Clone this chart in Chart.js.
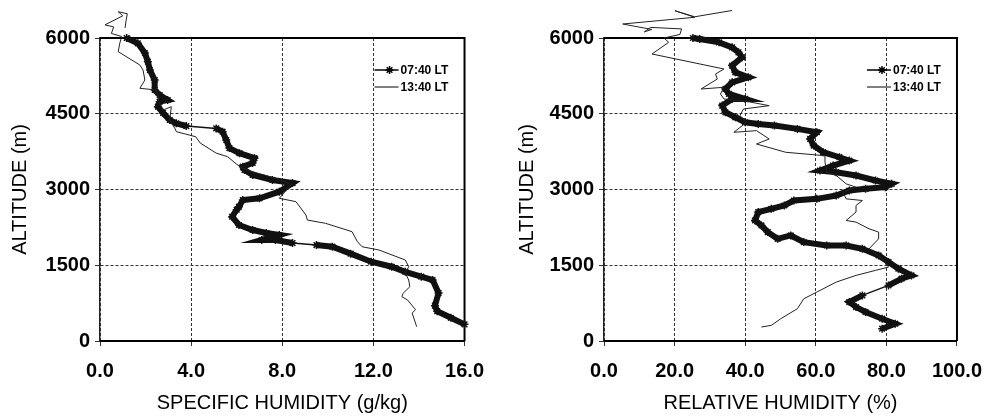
<!DOCTYPE html>
<html>
<head>
<meta charset="utf-8">
<script src="https://cdn.jsdelivr.net/npm/chart.js@4.4.1/dist/chart.umd.min.js"></script>
<style>
  html, body { margin: 0; padding: 0; background: #fff; }
  .box { position: absolute; top: 0; height: 419px; }
  #left-box { left: 0; width: 497px; }
  #right-box { left: 497px; width: 498px; }
</style>
</head>
<body>
<div class="box" id="left-box"><canvas id="sh-chart"></canvas></div>
<div class="box" id="right-box"><canvas id="rh-chart"></canvas></div>
<script>
const seriesLabels = ["07:40 LT", "13:40 LT"];
const altTicks = [0, 1500, 3000, 4500, 6000];
const shTicks = [0, 4, 8, 12, 16];
const rhTicks = [0, 20, 40, 60, 80, 100];

// specific humidity (g/kg) vs altitude (m), 07:40 LT
const sh0740 = [16.0, 15.4, 14.8, 14.7, 14.86, 14.6, 14.1, 13.4, 12.8, 11.9, 11.0, 10.2, 9.5, 8.45, 7.7, 7.1, 7.87, 7.3, 6.7, 6.1, 5.8, 6.0, 6.1, 6.27, 7.0, 7.87, 8.45, 7.57, 6.7, 6.34, 6.27, 6.7, 6.78, 6.12, 5.68, 5.54, 5.38, 5.1, 3.79, 3.35, 3.06, 2.77, 2.54, 2.62, 2.97, 2.62, 2.4, 2.4, 2.19, 2.1, 1.97, 1.66, 1.17];
const shAlt0740 = [330, 460, 590, 700, 950, 1208, 1273, 1370, 1471, 1570, 1730, 1867, 1900, 1940, 2000, 2000, 2099, 2138, 2198, 2297, 2461, 2600, 2660, 2792, 2826, 2957, 3128, 3188, 3287, 3386, 3452, 3525, 3620, 3720, 3820, 3980, 4145, 4210, 4257, 4310, 4376, 4515, 4640, 4739, 4772, 4871, 4970, 5168, 5366, 5531, 5703, 5895, 6000];

// specific humidity, 13:40 LT
const sh1340 = [13.9, 13.7, 13.85, 13.5, 13.25, 13.3, 13.6, 13.55, 13.4, 13.55, 13.4, 12.24, 11.5, 11.3, 11.06, 9.9, 9.1, 9.04, 8.6, 7.87, 8.4, 7.5, 6.4, 6.0, 5.6, 5.1, 4.4, 4.2, 3.35, 3.3, 3.06, 3.13, 2.77, 2.6, 2.48, 1.75, 1.97, 1.89, 1.75, 0.8, 0.87, 0.95, 0.5, 0.6, 0.22, 1.0, 0.8, 1.2, 1.15, 1.1];
const shAlt1340 = [283, 554, 620, 811, 877, 943, 1075, 1208, 1346, 1471, 1604, 1802, 1867, 1966, 2165, 2330, 2396, 2495, 2759, 2826, 3100, 3250, 3390, 3500, 3650, 3720, 3920, 4045, 4145, 4200, 4376, 4640, 4574, 4713, 4970, 5004, 5168, 5366, 5465, 5729, 5900, 6030, 6090, 6220, 6260, 6440, 6520, 6480, 6360, 6200];

// relative humidity (%) vs altitude (m), 07:40 LT
const rh0740 = [78.8, 82.5, 78.8, 74.1, 71.4, 69.5, 73.2, 80.6, 84.3, 87.1, 83.4, 80.6, 77.8, 73.2, 68.6, 63.1, 56.6, 52.9, 49.2, 46.4, 44.6, 42.8, 43.7, 47.4, 51.1, 53.8, 60.3, 65.8, 69.5, 74.1, 79.7, 81.5, 76.9, 71.4, 65.8, 61.2, 64.9, 69.5, 66.7, 62.1, 59.4, 58.4, 60.3, 54.8, 48.3, 43.7, 40.0, 37.2, 34.4, 33.5, 36.3, 40.0, 35.4, 34.4, 36.3, 40.9, 37.2, 36.3, 39.1, 38.1, 36.3, 32.6, 27.1, 25.2];
const rhAlt0740 = [244, 343, 442, 574, 672, 771, 903, 1101, 1233, 1299, 1431, 1563, 1694, 1826, 1892, 1892, 1958, 2090, 2024, 2156, 2288, 2387, 2552, 2617, 2683, 2782, 2815, 2881, 2980, 3013, 3046, 3112, 3178, 3277, 3343, 3376, 3474, 3573, 3639, 3738, 3870, 4002, 4134, 4200, 4266, 4299, 4332, 4430, 4529, 4661, 4793, 4793, 4892, 4991, 5123, 5222, 5321, 5453, 5617, 5716, 5815, 5914, 5980, 6000];

// relative humidity, 13:40 LT
const rh1340 = [44.6, 47.4, 50.1, 54.8, 56.6, 60.3, 65.8, 71.4, 76.9, 80.6, 78.8, 75.1, 77.8, 77.8, 75.1, 71.4, 68.6, 71.4, 71.4, 73.2, 68.6, 67.7, 71.4, 68.6, 65.8, 63.1, 62.6, 62.6, 51.5, 43.2, 46.8, 43.2, 36.8, 40.4, 38.5, 39.5, 46.8, 41.3, 34.0, 33.0, 34.0, 27.5, 32.1, 31.6, 34.0, 13.6, 18.3, 17.0, 21.5, 22.0, 13.2, 11.4, 13.5, 5.3, 25.7, 20.1, 25.7, 36.3];
const rhAlt1340 = [277, 310, 442, 640, 837, 969, 1167, 1299, 1398, 1464, 1628, 1826, 2024, 2156, 2222, 2354, 2387, 2552, 2683, 2782, 2815, 2947, 3046, 3112, 3277, 3343, 3550, 3669, 3737, 3901, 4000, 4165, 4133, 4333, 4462, 4594, 4660, 4733, 4792, 4891, 5024, 4990, 5188, 5287, 5386, 5683, 5914, 6000, 6070, 6180, 6210, 6120, 6170, 6277, 6410, 6540, 6420, 6545];

const FONT = "'Liberation Sans', Arial, sans-serif";

function pairs(xs, ys) {
  return xs.map((v, i) => ({ x: v, y: ys[i] }));
}

// long gaps between readings show up as a thin line in the scan
function thickSegment(ctx) {
  const d = Math.hypot(ctx.p1.x - ctx.p0.x, ctx.p1.y - ctx.p0.y);
  return d > 24 ? 1.5 : 6;
}

const framePlugin = {
  id: "frame",
  beforeDatasetsDraw(chart) {
    const { ctx, chartArea: a } = chart;
    ctx.save();
    ctx.strokeStyle = "#000";
    ctx.lineWidth = 2;
    ctx.beginPath();
    ctx.moveTo(a.left, a.top);
    ctx.lineTo(a.right, a.top);
    ctx.lineTo(a.right, a.bottom);
    ctx.stroke();
    ctx.restore();
  },
  afterDraw(chart) {
    const { ctx, chartArea: a } = chart;
    const x0 = a.right - 90, x1 = a.right - 66;
    const rows = [a.top + 32, a.top + 49];
    ctx.save();
    ctx.font = "bold 12px " + FONT;
    ctx.fillStyle = "#000";
    ctx.textBaseline = "middle";
    rows.forEach((y, i) => {
      ctx.strokeStyle = "#000";
      ctx.lineWidth = i === 0 ? 1.5 : 1;
      ctx.beginPath();
      ctx.moveTo(x0, y);
      ctx.lineTo(x1, y);
      ctx.stroke();
      if (i === 0) {
        Chart.helpers.drawPoint(ctx, { pointStyle: "star", radius: 4, borderWidth: 2 }, x1 - 9, y);
      }
      ctx.fillText(seriesLabels[i], x1 + 2, y + 1);
    });
    ctx.restore();
  }
};

function makeChart(id, xs0, ys0, xs1, ys1, xTicks, xTitle, yWidth, yTitlePad, rightPad) {
  const c = document.getElementById(id).getContext("2d");
  return new Chart(c, {
    type: "scatter",
    data: {
      datasets: [{
        label: seriesLabels[0],
        data: pairs(xs0, ys0),
        showLine: true,
        borderColor: "#111",
        backgroundColor: "#111",
        borderWidth: 6,
        segment: { borderWidth: thickSegment },
        pointStyle: "star",
        pointRadius: 4,
        pointBorderWidth: 1.5,
        pointBorderColor: "#111",
        clip: false,
        order: 1
      }, {
        label: seriesLabels[1],
        data: pairs(xs1, ys1),
        showLine: true,
        borderColor: "#222",
        borderWidth: 1,
        pointRadius: 0,
        clip: false,
        order: 0
      }]
    },
    options: {
      responsive: true,
      maintainAspectRatio: false,
      animation: false,
      layout: { autoPadding: false, padding: { top: 38, right: rightPad, left: 0, bottom: 0 } },
      plugins: { legend: { display: false }, tooltip: { enabled: false } },
      scales: {
        x: {
          type: "linear",
          min: xTicks[0],
          max: xTicks[xTicks.length - 1],
          afterBuildTicks: s => { s.ticks = xTicks.map(v => ({ value: v })); },
          afterFit: s => { s.height = 78; },
          ticks: {
            callback: v => v.toFixed(1),
            color: "#000",
            padding: 13,
            maxRotation: 0,
            font: { family: FONT, size: 20, weight: "bold" }
          },
          grid: { color: "#333", lineWidth: 1, tickLength: 5 },
          border: { color: "#000", width: 2, dash: [3, 2] },
          title: {
            display: true,
            text: xTitle,
            color: "#000",
            padding: { top: 0, bottom: 4 },
            font: { family: FONT, size: 20 }
          }
        },
        y: {
          type: "linear",
          min: 0,
          max: 6000,
          afterBuildTicks: s => { s.ticks = altTicks.map(v => ({ value: v })); },
          afterFit: s => { s.width = yWidth; },
          ticks: {
            callback: v => String(v),
            color: "#000",
            padding: 5,
            font: { family: FONT, size: 20, weight: "bold" }
          },
          grid: { color: "#333", lineWidth: 1, tickLength: 5 },
          border: { color: "#222", width: 1.5, dash: [3, 2] },
          title: {
            display: true,
            text: "ALTITUDE (m)",
            color: "#000",
            padding: { top: yTitlePad, bottom: 0 },
            font: { family: FONT, size: 20 }
          }
        }
      }
    },
    plugins: [framePlugin]
  });
}

makeChart("sh-chart", sh0740, shAlt0740, sh1340, shAlt1340, shTicks, "SPECIFIC HUMIDITY (g/kg)", 100, 8, 31);
makeChart("rh-chart", rh0740, rhAlt0740, rh1340, rhAlt1340, rhTicks, "RELATIVE HUMIDITY (%)", 107, 18, 30);
</script>
</body>
</html>
